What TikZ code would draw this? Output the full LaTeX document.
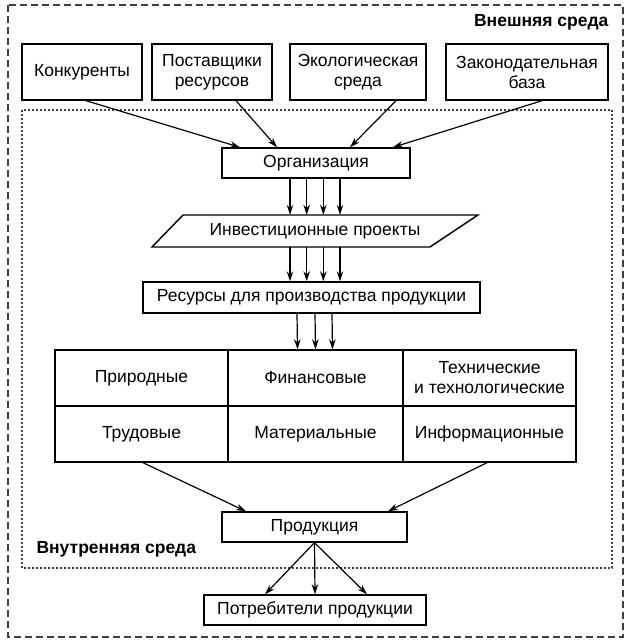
\documentclass[tikz,border=0pt]{standalone}
\usepackage{fontspec}
\setmainfont{Liberation Sans}
\usetikzlibrary{arrows.meta,calc}
\begin{document}
\begin{tikzpicture}[x=1pt,y=-1pt,
  txt/.style={font=\fontsize{17.5}{20}\selectfont,align=center},
  box/.style={txt,draw,line width=1.4pt,inner sep=0pt},
  cell/.style={txt,draw,line width=1.4pt,inner sep=0pt,minimum height=56pt},
  arr/.style={-{Stealth[length=10pt,width=6.5pt]},line width=1.2pt},
  lbl/.style={font=\fontsize{17.5}{20}\selectfont\bfseries}]
\useasboundingbox (0,0) rectangle (630,644);
% outer and inner frames
\draw[line width=1.1pt,dash pattern=on 7pt off 4pt,black!75] (8,5) rectangle (623,637);
\draw[line width=1.1pt,dash pattern=on 2pt off 2pt,black!75] (22,110) rectangle (612,568);
\node[lbl,anchor=east] (ext) at (612,22) {Внешняя среда};
\node[lbl,anchor=west] (int) at (33,549) {Внутренняя среда};
% top boxes
\node[box,minimum width=120pt,minimum height=56pt] (konk) at (82,72) {Конкуренты};
\node[box,minimum width=120pt,minimum height=56pt] (post) at (212,72) {Поставщики\\ресурсов};
\node[box,minimum width=136pt,minimum height=56pt] (eco) at (358,72) {Экологическая\\среда};
\node[box,minimum width=162pt,minimum height=56pt] (zak) at (527,72) {Законодательная\\база};
% organisation
\node[box,minimum width=188pt,minimum height=30pt] (org) at (316,163) {Организация};
\draw[arr] ($(konk.south)+(4,0)$) -- ($(org.north)+(-76,0)$);
\draw[arr] ($(post.south)+(24,0)$) -- ($(org.north)+(-39,0)$);
\draw[arr] ($(eco.south)+(38,0)$) -- ($(org.north)+(34,0)$);
\draw[arr] ($(zak.south)+(15,0)$) -- ($(org.north)+(77,0)$);
% investment projects (parallelogram)
\node[txt,minimum width=278pt,minimum height=32pt,inner sep=0pt] (inv) at (315,231) {Инвестиционные проекты};
\draw[line width=1.4pt] (183,215) -- (478,215) -- (430,247) -- (152,247) -- cycle;
\foreach \dx in {-25,-8.3,8.3,25} {
  \draw[arr] ($(org.south)+(\dx-1,0)$) -- ($(inv.north)+(\dx,0)$);
}
% resources
\node[box,minimum width=337pt,minimum height=31pt] (res) at (311.5,297.5) {Ресурсы для производства продукции};
\foreach \dx in {-25,-8.3,8.3,25} {
  \draw[arr] ($(inv.south)+(\dx,0)$) -- ($(res.north)+(\dx+3.5,0)$);
}
% table
\node[cell,minimum width=173pt] (c11) at (141.5,378) {Природные};
\node[cell,minimum width=175pt] (c12) at (315.5,378) {Финансовые};
\node[cell,minimum width=173pt] (c13) at (489.5,378) {Технические\\и технологические};
\node[cell,minimum width=173pt] (c21) at (141.5,434) {Трудовые};
\node[cell,minimum width=175pt] (c22) at (315.5,434) {Материальные};
\node[cell,minimum width=173pt] (c23) at (489.5,434) {Информационные};
\foreach \dx in {-18,0,17} {
  \draw[arr] ($(res.south)+(\dx+3.5,0)$) -- ($(c12.north)+(\dx,0)$);
}
% product
\node[box,minimum width=185pt,minimum height=30pt] (prod) at (314.5,527) {Продукция};
\draw[arr] ($(c21.south)+(1.5,0)$) -- ($(prod.north)+(-68.5,0)$);
\draw[arr] ($(c23.south)+(-2.5,0)$) -- ($(prod.north)+(73.5,0)$);
% consumers
\node[box,minimum width=222pt,minimum height=30pt] (potr) at (315,610) {Потребители продукции};
\draw[arr] (prod.south) -- ($(potr.north)+(-50,0)$);
\draw[arr] (prod.south) -- ($(potr.north)+(0,0)$);
\draw[arr] (prod.south) -- ($(potr.north)+(52,0)$);
\end{tikzpicture}
\end{document}
